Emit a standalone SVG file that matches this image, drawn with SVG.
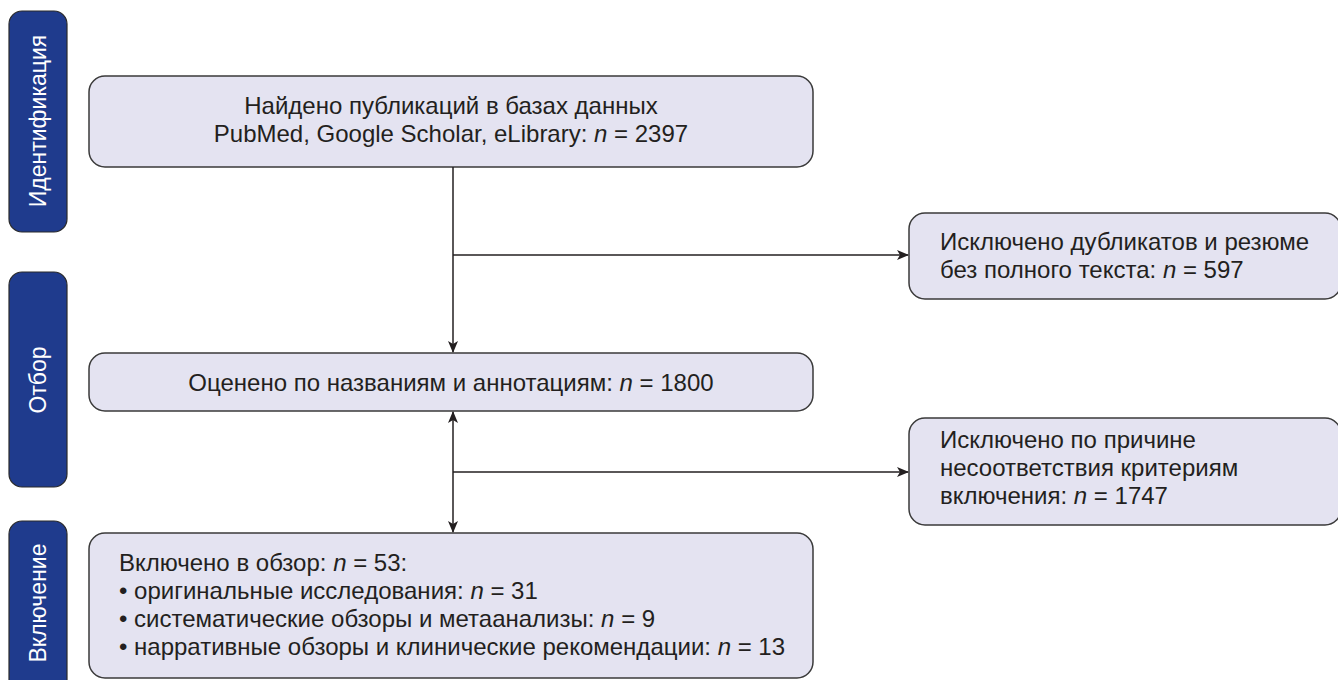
<svg xmlns="http://www.w3.org/2000/svg" width="1338" height="680" viewBox="0 0 1338 680">
<defs>
<style>
.side{fill:#1f3b8d;stroke:#2a2a2a;stroke-width:1.2}
.box{fill:#e4e3f1;stroke:#3a3a3a;stroke-width:1.5}
.st{font-family:"Liberation Sans",Arial,sans-serif;font-size:23px;fill:#ffffff}
.t{font-family:"Liberation Sans",Arial,sans-serif;font-size:24px;fill:#231f20}
.ln{stroke:#231f20;stroke-width:1.5;fill:none}
</style>
<marker id="ah" viewBox="0 0 12 10" refX="11" refY="5" markerWidth="12" markerHeight="10" markerUnits="userSpaceOnUse" orient="auto-start-reverse">
<path d="M0,0 L12,5 L0,10 L3,5 Z" fill="#231f20"/>
</marker>
</defs>
<g id="stage-identification">
<rect class="side" x="9" y="11" width="58" height="221" rx="13"/>
<text class="st" transform="translate(46,121) rotate(-90)" text-anchor="middle">Идентификация</text>
</g>
<g id="stage-screening">
<rect class="side" x="9" y="272" width="58" height="215" rx="13"/>
<text class="st" transform="translate(46,380) rotate(-90)" text-anchor="middle">Отбор</text>
</g>
<g id="stage-inclusion">
<rect class="side" x="9" y="521" width="58" height="175" rx="13"/>
<text class="st" transform="translate(46,603) rotate(-90)" text-anchor="middle">Включение</text>
</g>
<g id="found">
<rect class="box" x="89" y="76" width="724" height="91" rx="16"/>
<text class="t" x="451" y="114" text-anchor="middle">Найдено публикаций в базах данных</text>
<text class="t" x="451" y="142" text-anchor="middle">PubMed, Google Scholar, eLibrary: <tspan font-style="italic">n</tspan> = 2397</text>
</g>
<g id="excluded-duplicates">
<rect class="box" x="909" y="213" width="432" height="86" rx="16"/>
<text class="t" x="940" y="250">Исключено дубликатов и резюме</text>
<text class="t" x="940" y="278">без полного текста: <tspan font-style="italic">n</tspan> = 597</text>
</g>
<g id="screened">
<rect class="box" x="89" y="353" width="724" height="58" rx="16"/>
<text class="t" x="451" y="391" text-anchor="middle">Оценено по названиям и аннотациям: <tspan font-style="italic">n</tspan> = 1800</text>
</g>
<g id="excluded-criteria">
<rect class="box" x="909" y="418" width="432" height="107" rx="16"/>
<text class="t" x="940" y="448">Исключено по причине</text>
<text class="t" x="940" y="476">несоответствия критериям</text>
<text class="t" x="940" y="504">включения: <tspan font-style="italic">n</tspan> = 1747</text>
</g>
<g id="included">
<rect class="box" x="89" y="533" width="724" height="145" rx="16"/>
<text class="t" x="119" y="571">Включено в обзор: <tspan font-style="italic">n</tspan> = 53:</text>
<text class="t" x="119" y="599">• оригинальные исследования: <tspan font-style="italic">n</tspan> = 31</text>
<text class="t" x="119" y="627">• систематические обзоры и метаанализы: <tspan font-style="italic">n</tspan> = 9</text>
<text class="t" x="119" y="655">• нарративные обзоры и клинические рекомендации: <tspan font-style="italic">n</tspan> = 13</text>
</g>
<g id="connectors">
<line class="ln" x1="453" y1="167" x2="453" y2="352" marker-end="url(#ah)"/>
<line class="ln" x1="453" y1="255" x2="908" y2="255" marker-end="url(#ah)"/>
<line class="ln" x1="453" y1="412" x2="453" y2="532" marker-start="url(#ah)" marker-end="url(#ah)"/>
<line class="ln" x1="453" y1="472" x2="908" y2="472" marker-end="url(#ah)"/>
</g>
</svg>
